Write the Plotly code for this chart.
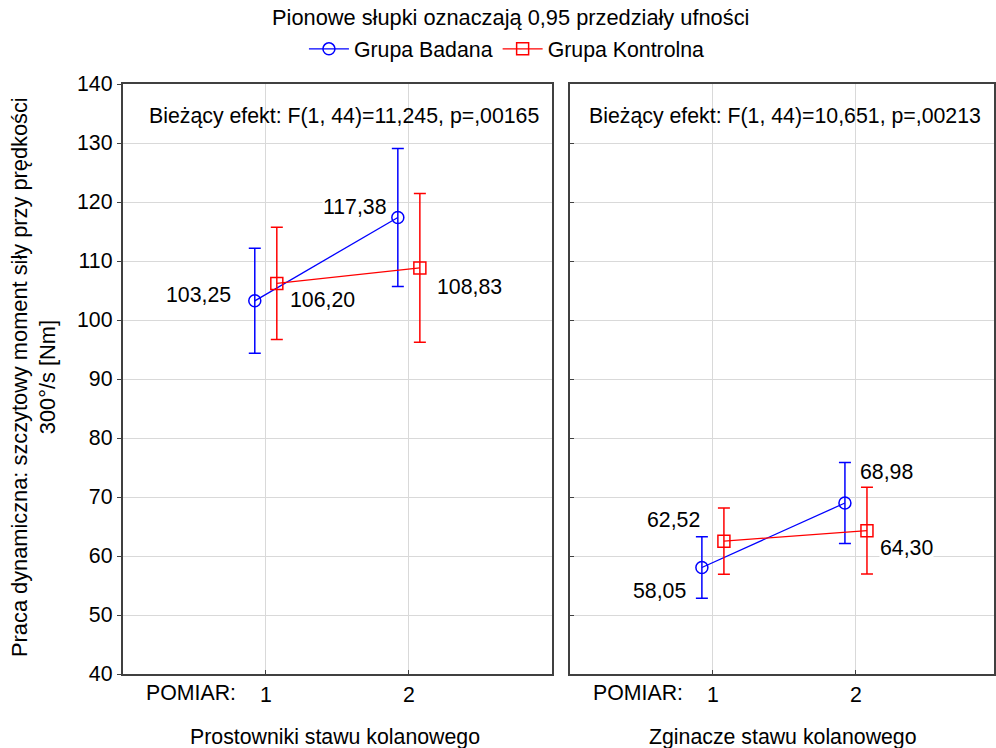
import plotly.graph_objects as go

# ---- data ----
pomiar = [1, 2]
panels = ["Prostowniki stawu kolanowego", "Zginacze stawu kolanowego"]
effects = ["Bieżący efekt: F(1, 44)=11,245, p=,00165",
           "Bieżący efekt: F(1, 44)=10,651, p=,00213"]
badana_mean = [[103.25, 117.38], [58.05, 68.98]]
badana_ci = [[8.9, 11.7], [5.2, 6.85]]
kontrol_mean = [[106.20, 108.83], [62.52, 64.30]]
kontrol_ci = [[9.5, 12.6], [5.6, 7.35]]
ytick_vals = [40, 50, 60, 70, 80, 90, 100, 110, 120, 130, 140]

# ---- styles ----
W, H = 996, 748
FONT = "Liberation Sans, Arial, sans-serif"
FS = 21.3
BLUE, RED = "#0000ff", "#ff0000"
OFF = 0.077
dom1 = [123 / W, 553 / W]
dom2 = [571 / W, 1.0]
range1 = [0, 3]
range2 = [0, 3 * (W - 571) / 430]
PH = 590  # plot height in px

fig = go.Figure()

# label offsets (pixels) per panel/point: (xanchor, xshift, yshift)
lab_b = [[("right", -23, 6), ("right", -10, 10)], [("right", -15, -23), ("left", 14, 31)]]
lab_k = [[("left", 12, -17), ("left", 16, -19)], [("right", -23, 21), ("left", 12, -17)]]

for p in range(2):
    xa = "x" if p == 0 else "x2"
    ya = "y" if p == 0 else "y2"
    xb = [v - OFF for v in pomiar]
    xk = [v + OFF for v in pomiar]
    fig.add_trace(go.Scatter(
        x=xb, y=badana_mean[p], xaxis=xa, yaxis=ya, mode="lines+markers",
        name="Grupa Badana", showlegend=(p == 0), legendrank=1,
        line=dict(color=BLUE, width=1.3),
        marker=dict(symbol="circle-open", size=12, color=BLUE, line=dict(width=1.5)),
        error_y=dict(type="data", array=badana_ci[p], color=BLUE, thickness=1.5, width=6)))
    fig.add_trace(go.Scatter(
        x=xk, y=kontrol_mean[p], xaxis=xa, yaxis=ya, mode="lines+markers",
        name="Grupa Kontrolna", showlegend=(p == 0), legendrank=2,
        line=dict(color=RED, width=1.3),
        marker=dict(symbol="square-open", size=12, color=RED, line=dict(width=1.5)),
        error_y=dict(type="data", array=kontrol_ci[p], color=RED, thickness=1.5, width=6)))
    for i in range(2):
        for xs, ys, lab in ((xb, badana_mean[p], lab_b[p][i]), (xk, kontrol_mean[p], lab_k[p][i])):
            anc, dx, dy = lab
            fig.add_annotation(x=xs[i], y=ys[i], xref=xa, yref=ya,
                               text=f"{ys[i]:.2f}".replace(".", ","), showarrow=False,
                               xanchor=anc, yanchor="middle", xshift=dx, yshift=dy,
                               bgcolor="white", borderpad=0,
                               font=dict(size=FS, color="black", family=FONT))

axis_common = dict(showgrid=True, gridcolor="#d9d9d9", gridwidth=1, zeroline=False,
                   showline=True, linecolor="#404040", linewidth=2, mirror=True)

fig.update_layout(
    width=W, height=H,
    margin=dict(l=0, r=0, t=84, b=74),
    paper_bgcolor="white", plot_bgcolor="white",
    font=dict(family=FONT, size=FS, color="black"),
    showlegend=True,
    legend=dict(orientation="h", x=0.51, xanchor="center", y=1.0 + 35 / PH, yanchor="middle",
                font=dict(size=FS), itemwidth=40, bgcolor="rgba(0,0,0,0)", tracegroupgap=0),
    xaxis=dict(domain=dom1, range=range1, tickvals=pomiar, ticktext=[str(v) for v in pomiar],
               ticks="inside", ticklen=4, tickcolor="#404040", anchor="y", **axis_common),
    xaxis2=dict(domain=dom2, range=range2, tickvals=pomiar, ticktext=[str(v) for v in pomiar],
                ticks="inside", ticklen=4, tickcolor="#404040", anchor="y2", **axis_common),
    yaxis=dict(domain=[0, 1], range=[40, 140], tickvals=ytick_vals, ticks="outside", ticklen=4,
               tickcolor="#404040", anchor="x", **axis_common),
    yaxis2=dict(domain=[0, 1], range=[40, 140], tickvals=ytick_vals, showticklabels=False,
                ticks="inside", ticklen=4, tickcolor="#404040", anchor="x2", **axis_common),
)

# title
fig.add_annotation(text="Pionowe słupki oznaczają 0,95 przedziały ufności", xref="paper", yref="paper",
                   x=512 / W, y=1 + (84 - 18) / PH, showarrow=False,
                   xanchor="center", yanchor="middle", font=dict(size=21.8))
# effects
fig.add_annotation(text=effects[0], xref="paper", yref="paper", x=147 / W, y=1 - 32 / PH,
                   showarrow=False, xanchor="left", yanchor="middle", font=dict(size=FS))
fig.add_annotation(text=effects[1], xref="paper", yref="paper", x=588 / W, y=1 - 32 / PH,
                   showarrow=False, xanchor="left", yanchor="middle", font=dict(size=FS))
# POMIAR labels
for xp in (238, 686):
    fig.add_annotation(text="POMIAR:", xref="paper", yref="paper", x=xp / W, y=-19 / PH,
                       showarrow=False, xanchor="right", yanchor="middle", font=dict(size=FS))
# panel titles
for cx, t in ((336, panels[0]), (785, panels[1])):
    fig.add_annotation(text=t, xref="paper", yref="paper", x=cx / W, y=-63 / PH,
                       showarrow=False, xanchor="center", yanchor="middle", font=dict(size=FS))
# y title
fig.add_annotation(text="Praca dynamiczna: szczytowy moment siły przy prędkości<br>300°/s [Nm]",
                   xref="paper", yref="paper", x=33 / W, y=(674 - 377) / PH, textangle=-90,
                   showarrow=False, xanchor="center", yanchor="middle", font=dict(size=21.8))

fig.write_html("out.html")
